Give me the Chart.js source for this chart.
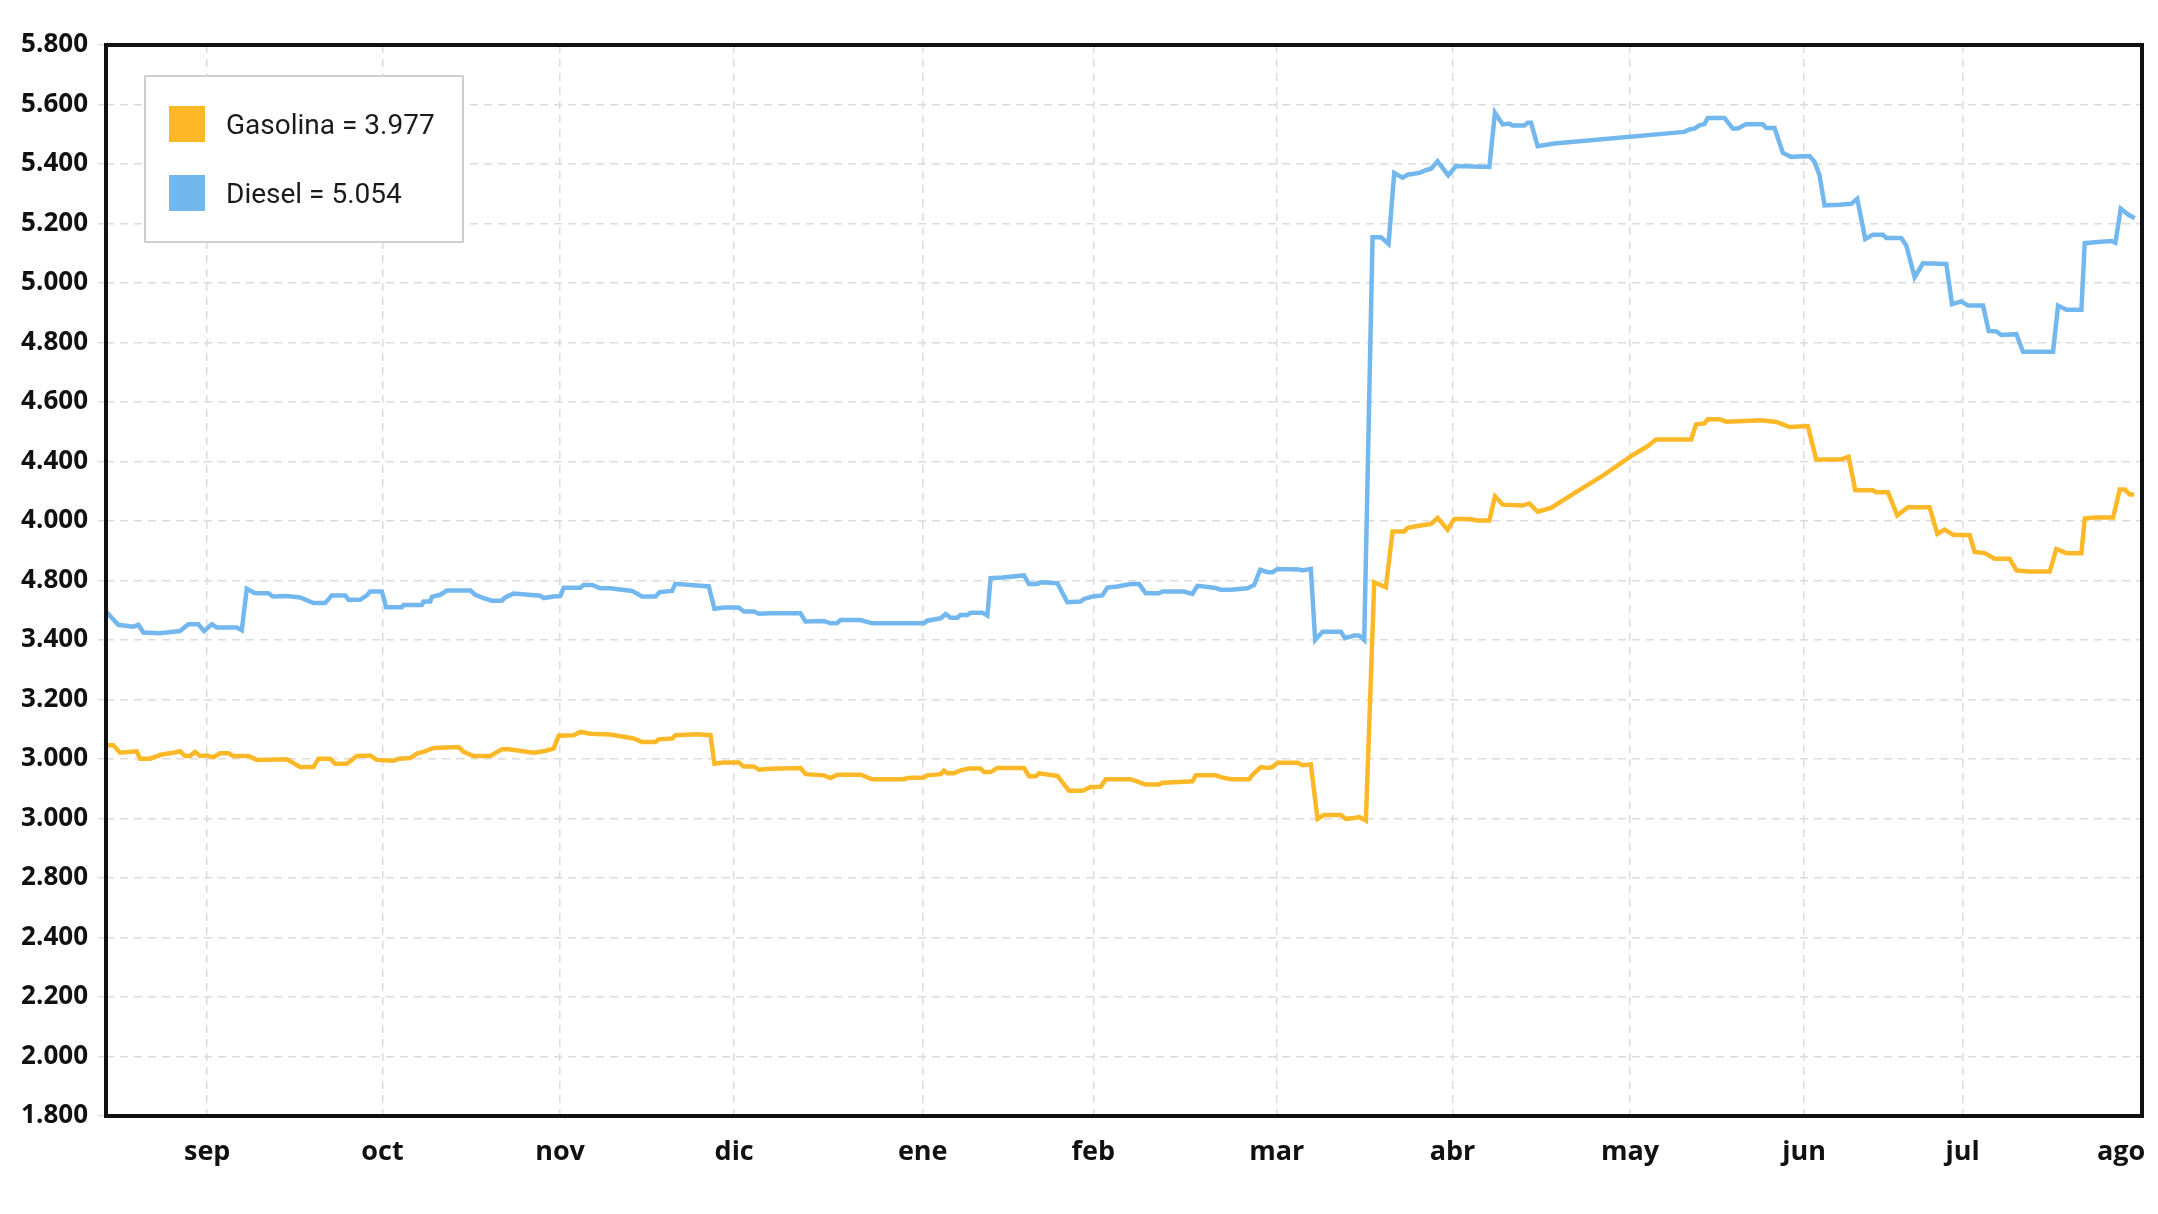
<!DOCTYPE html>
<html>
<head>
<meta charset="utf-8">
<script src="https://cdn.jsdelivr.net/npm/chart.js@4/dist/chart.umd.min.js"></script>
<style>
  html, body { margin: 0; padding: 0; background: #fff; }
  #wrap { width: 2158px; height: 1214px; }
</style>
</head>
<body>
<div id="wrap"><canvas id="priceChart" width="2158" height="1214"></canvas></div>
<script>
// month labels and where they sit on the day axis
const monthLabels = ["sep", "oct", "nov", "dic", "ene", "feb", "mar", "abr", "may", "jun", "jul", "ago"];
const monthTicks = [17.5, 47.8, 78.5, 108.6, 141.2, 170.7, 202.4, 232.8, 263.5, 293.6, 321.0, 348.4];

// y tick labels, top to bottom, as printed on the chart
const yTickLabels = ["5.800", "5.600", "5.400", "5.200", "5.000", "4.800", "4.600", "4.400", "4.000",
  "4.800", "3.400", "3.200", "3.000", "3.000", "2.800", "2.400", "2.200", "2.000", "1.800"];

const gasLabel = "Gasolina = 3.977";
const dieselLabel = "Diesel = 5.054";

const gasDays = [0, 1.27, 2.42, 5.31, 5.88, 7.61, 9.63, 11.65, 12.8, 13.67, 14.53, 15.4, 16.26, 17.42, 18.57,
  19.72, 21.16, 22.03, 24.62, 26.07, 31.26, 33.56, 35.87, 36.74, 38.75, 39.62, 41.64, 43.37, 45.67, 46.83,
  49.71, 50.58, 52.6, 53.75, 54.9, 56.63, 60.96, 61.82, 63.55, 66.44, 68.45, 69.61, 73.93, 75.66, 77.39,
  78.26, 80.85, 82.01, 83.74, 87.2, 91.23, 92.68, 94.98, 95.56, 97.87, 98.44, 102.19, 104.5, 105.19,
  106.81, 109.4, 110.26, 112.0, 112.86, 114.88, 120.07, 120.93, 124.11, 125.26, 126.41, 130.45, 132.47,
  137.95, 138.52, 141.41, 141.98, 144.29, 144.87, 145.44, 146.6, 147.75, 149.19, 151.21, 151.79, 152.94,
  154.09, 158.71, 159.57, 160.73, 161.3, 164.48, 166.49, 168.8, 170.24, 171.97, 172.84, 177.16, 179.76,
  182.06, 182.64, 185.52, 187.83, 188.41, 191.87, 192.73, 194.46, 197.64, 198.21, 199.65, 200.81, 201.67,
  202.54, 206.0, 206.86, 208.3, 209.46, 210.61, 213.49, 214.36, 215.8, 216.67, 217.82, 219.26, 221.28,
  222.43, 224.45, 225.03, 227.05, 229.07, 230.22, 231.95, 233.1, 235.7, 237.14, 239.16, 240.14, 241.47,
  244.93, 246.08, 247.52, 249.83, 253.86, 259.05, 263.67, 266.55, 267.99, 274.05, 274.91, 276.35, 276.93,
  278.95, 280.1, 286.16, 288.75, 289.91, 291.06, 294.23, 295.67, 300.0, 301.27, 302.42, 305.48, 306.06,
  308.07, 309.69, 311.53, 315.28, 316.61, 317.88, 319.32, 322.2, 323.07, 324.8, 326.53, 329.12, 330.28,
  332.3, 336.04, 337.2, 338.93, 341.52, 342.1, 343.83, 347.0, 348.15, 349.02, 349.88, 350.64];
const gasPrices = [3.446, 3.446, 3.421, 3.426, 3.401, 3.401, 3.415, 3.421, 3.426, 3.41, 3.41, 3.424, 3.41,
  3.412, 3.406, 3.419, 3.419, 3.41, 3.41, 3.397, 3.399, 3.373, 3.373, 3.401, 3.401, 3.384, 3.384, 3.41,
  3.412, 3.397, 3.394, 3.401, 3.403, 3.418, 3.424, 3.437, 3.44, 3.424, 3.41, 3.41, 3.433, 3.433, 3.421,
  3.426, 3.435, 3.478, 3.48, 3.491, 3.485, 3.482, 3.469, 3.457, 3.457, 3.466, 3.469, 3.48, 3.483, 3.48,
  3.384, 3.388, 3.388, 3.375, 3.375, 3.364, 3.367, 3.37, 3.349, 3.345, 3.336, 3.347, 3.347, 3.332, 3.332,
  3.336, 3.338, 3.345, 3.349, 3.361, 3.352, 3.352, 3.362, 3.368, 3.368, 3.356, 3.356, 3.37, 3.37, 3.342,
  3.342, 3.352, 3.343, 3.293, 3.293, 3.306, 3.307, 3.332, 3.332, 3.314, 3.314, 3.32, 3.323, 3.325, 3.345,
  3.345, 3.339, 3.332, 3.332, 3.347, 3.373, 3.37, 3.373, 3.387, 3.387, 3.379, 3.382, 3.199, 3.212, 3.212,
  3.199, 3.202, 3.205, 3.193, 3.994, 3.977, 4.165, 4.165, 4.177, 4.184, 4.19, 4.21, 4.171, 4.207, 4.207,
  4.202, 4.202, 4.283, 4.255, 4.252, 4.259, 4.231, 4.244, 4.294, 4.356, 4.418, 4.452, 4.474, 4.474, 4.525,
  4.528, 4.542, 4.542, 4.534, 4.539, 4.533, 4.525, 4.516, 4.519, 4.407, 4.407, 4.416, 4.303, 4.303, 4.297,
  4.297, 4.219, 4.246, 4.246, 4.157, 4.171, 4.154, 4.152, 4.096, 4.092, 4.073, 4.073, 4.034, 4.03, 4.03,
  4.106, 4.092, 4.092, 4.208, 4.212, 4.212, 4.306, 4.306, 4.289, 4.289];

const dieselDays = [0, 2.13, 4.73, 5.59, 6.46, 9.34, 12.8, 14.24, 15.97, 16.96, 18.28, 19.15, 22.61, 23.47,
  24.34, 25.78, 28.08, 28.84, 31.26, 33.56, 35.87, 37.89, 39.04, 41.35, 41.93, 43.94, 45.1, 45.67, 47.69,
  48.44, 51.15, 51.44, 54.61, 54.9, 56.06, 56.34, 57.79, 58.94, 62.98, 63.84, 65.28, 66.72, 68.45, 69.03,
  70.47, 75.09, 75.66, 77.39, 78.55, 79.12, 82.01, 82.58, 84.03, 85.47, 87.2, 90.95, 92.68, 94.98, 95.73,
  97.87, 98.44, 102.19, 104.21, 105.19, 106.81, 109.4, 110.26, 112.0, 112.86, 114.88, 120.07, 120.93,
  124.11, 125.26, 126.41, 126.99, 130.45, 132.47, 141.41, 141.98, 144.29, 145.16, 146.02, 147.17, 147.75,
  148.9, 149.48, 151.5, 152.37, 152.94, 154.96, 158.71, 159.57, 161.02, 161.59, 164.48, 166.21, 168.51,
  169.09, 170.53, 172.26, 173.13, 174.86, 177.16, 178.6, 179.76, 182.06, 182.64, 186.39, 187.83, 188.7,
  191.58, 192.73, 194.46, 197.35, 198.5, 199.54, 200.81, 201.67, 202.54, 206.29, 206.86, 208.3, 209.05,
  210.32, 213.49, 214.19, 215.8, 216.67, 217.53, 218.97, 220.42, 221.74, 222.72, 224.16, 225.03, 227.05,
  228.2, 229.07, 230.22, 232.06, 233.39, 239.16, 240.14, 241.47, 242.62, 243.19, 245.21, 245.79, 246.36,
  247.52, 250.4, 272.89, 273.76, 274.62, 275.49, 276.35, 276.93, 279.81, 281.26, 282.12, 283.56, 286.45,
  287.02, 288.47, 289.91, 291.35, 294.52, 295.39, 296.25, 297.12, 299.71, 301.73, 302.77, 304.15, 305.48,
  307.21, 307.79, 310.38, 311.25, 312.69, 314.13, 318.17, 319.15, 320.76, 321.92, 324.51, 325.49, 326.82,
  327.68, 330.28, 331.43, 336.62, 337.49, 338.93, 341.52, 342.1, 343.83, 346.71, 347.4, 348.33, 349.6, 350.75];
const dieselPrices = [3.896, 3.851, 3.845, 3.851, 3.825, 3.823, 3.83, 3.853, 3.853, 3.83, 3.853, 3.842,
  3.842, 3.833, 3.972, 3.957, 3.957, 3.946, 3.948, 3.943, 3.924, 3.924, 3.95, 3.95, 3.935, 3.935, 3.95,
  3.963, 3.963, 3.91, 3.91, 3.918, 3.918, 3.929, 3.929, 3.945, 3.952, 3.966, 3.966, 3.952, 3.941, 3.932,
  3.932, 3.943, 3.956, 3.949, 3.941, 3.946, 3.948, 3.976, 3.976, 3.985, 3.985, 3.974, 3.974, 3.965, 3.946,
  3.946, 3.961, 3.965, 3.989, 3.983, 3.98, 3.905, 3.909, 3.909, 3.896, 3.896, 3.888, 3.89, 3.89, 3.862,
  3.864, 3.856, 3.857, 3.867, 3.867, 3.856, 3.856, 3.865, 3.873, 3.887, 3.875, 3.875, 3.884, 3.884, 3.892,
  3.892, 3.882, 4.008, 4.01, 4.017, 3.988, 3.988, 3.994, 3.991, 3.927, 3.929, 3.938, 3.946, 3.95, 3.976,
  3.98, 3.988, 3.988, 3.957, 3.957, 3.963, 3.963, 3.955, 3.982, 3.976, 3.969, 3.969, 3.974, 3.985, 4.036,
  4.028, 4.028, 4.039, 4.037, 4.034, 4.039, 3.8, 3.828, 3.828, 3.806, 3.815, 3.815, 3.8, 5.154, 5.154,
  5.131, 5.37, 5.354, 5.364, 5.37, 5.379, 5.384, 5.409, 5.362, 5.393, 5.39, 5.572, 5.533, 5.536, 5.529,
  5.529, 5.539, 5.539, 5.46, 5.469, 5.508, 5.516, 5.519, 5.53, 5.534, 5.555, 5.555, 5.519, 5.519, 5.534,
  5.534, 5.521, 5.521, 5.437, 5.424, 5.427, 5.407, 5.362, 5.261, 5.263, 5.266, 5.283, 5.148, 5.162, 5.162,
  5.151, 5.151, 5.126, 5.019, 5.066, 5.064, 4.929, 4.938, 4.924, 4.924, 4.839, 4.837, 4.825, 4.828, 4.769,
  4.769, 4.924, 4.91, 4.91, 5.134, 5.137, 5.141, 5.135, 5.25, 5.23, 5.218];

const gasColor = "#FDB827";
const dieselColor = "#72B8EE";

function toPoints(days, prices) {
  return days.map((d, i) => ({ x: d, y: prices[i] }));
}

// black frame around the plot area
const framePlugin = {
  id: "frame",
  afterDraw(chart) {
    const { ctx, chartArea: a } = chart;
    ctx.save();
    ctx.strokeStyle = "#111";
    ctx.lineWidth = 4;
    ctx.strokeRect(a.left, a.top, a.right - a.left, a.bottom - a.top);
    ctx.restore();
  }
};

// boxed legend in the upper left corner
const boxLegend = {
  id: "boxLegend",
  afterDraw(chart) {
    const ctx = chart.ctx;
    ctx.save();
    ctx.fillStyle = "#fff";
    ctx.fillRect(145, 76, 318, 166);
    ctx.strokeStyle = "#cfcfcf";
    ctx.lineWidth = 2;
    ctx.strokeRect(145, 76, 318, 166);
    ctx.font = "28px Roboto";
    ctx.textBaseline = "middle";
    chart.data.datasets.forEach((ds, i) => {
      const y = 124 + i * 69;
      ctx.fillStyle = ds.borderColor;
      ctx.fillRect(169, y - 18, 36, 36);
      ctx.fillStyle = "#1b1b1b";
      ctx.fillText(ds.label, 226, y + 3);
    });
    ctx.restore();
  }
};

new Chart(document.getElementById("priceChart"), {
  type: "line",
  data: {
    datasets: [
      { label: gasLabel, data: toPoints(gasDays, gasPrices), borderColor: gasColor, backgroundColor: gasColor,
        borderWidth: 4.5, pointRadius: 0, tension: 0 },
      { label: dieselLabel, data: toPoints(dieselDays, dieselPrices), borderColor: dieselColor, backgroundColor: dieselColor,
        borderWidth: 4.5, pointRadius: 0, tension: 0 }
    ]
  },
  options: {
    responsive: false,
    devicePixelRatio: 1,
    animation: false,
    layout: { padding: { top: 45, right: 16, left: 0, bottom: 0 } },
    plugins: { legend: { display: false }, tooltip: { enabled: false } },
    scales: {
      x: {
        type: "linear",
        min: 0,
        max: 352,
        afterBuildTicks: s => { s.ticks = monthTicks.map(v => ({ value: v })); },
        afterFit: s => { s.height = 98; s.paddingLeft = 0; s.paddingRight = 0; },
        ticks: {
          autoSkip: false,
          maxRotation: 0,
          padding: 20,
          color: "#111",
          font: { family: "'Open Sans'", size: 27, weight: "bold" },
          callback: (v, i) => monthLabels[i]
        },
        grid: {
          color: c => (c.index === monthTicks.length - 1 ? "rgba(0,0,0,0)" : "#dcdcdc"),
          lineWidth: 1.5,
          drawTicks: false
        },
        border: { display: false, dash: [8, 6] }
      },
      y: {
        min: 2.2,
        max: 5.8,
        afterBuildTicks: s => { s.ticks = yTickLabels.map((_, i) => ({ value: 2.2 + 0.2 * i })); },
        afterFit: s => { s.width = 106; s.paddingTop = 0; s.paddingBottom = 0; },
        ticks: {
          padding: 10,
          color: "#111",
          font: { family: "'Open Sans'", size: 26, weight: "bold" },
          callback: (v, i) => yTickLabels[yTickLabels.length - 1 - i]
        },
        grid: { color: "#dcdcdc", lineWidth: 1.5, tickLength: 8, tickBorderDash: [] },
        border: { display: false, dash: [8, 6] }
      }
    }
  },
  plugins: [framePlugin, boxLegend]
});
</script>
</body>
</html>
